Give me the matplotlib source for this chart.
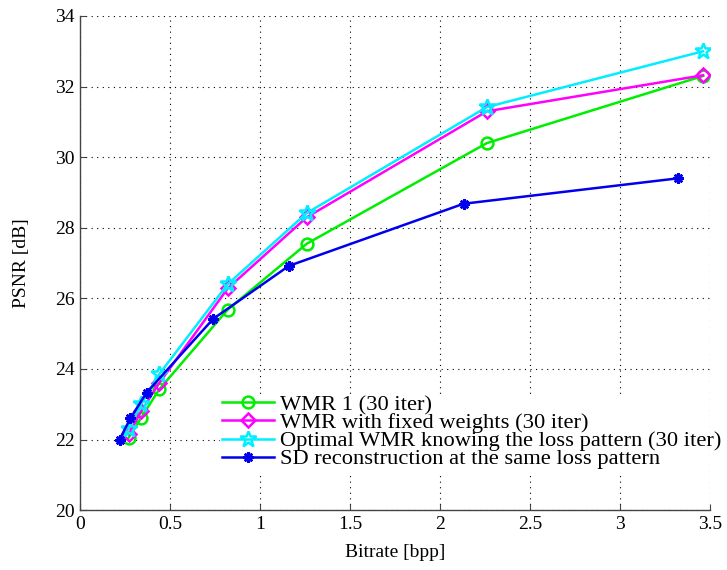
import matplotlib.pyplot as plt
from matplotlib.patches import Rectangle

# data
rate_wmr = [0.27, 0.34, 0.44, 0.82, 1.26, 2.26, 3.46]
psnr_wmr1 = [22.05, 22.62, 23.42, 25.68, 27.55, 30.4, 32.3]
psnr_fixed = [22.15, 22.8, 23.6, 26.28, 28.3, 31.3, 32.32]
psnr_opt = [22.3, 23.0, 23.85, 26.4, 28.42, 31.42, 33.0]
rate_sd = [0.22, 0.28, 0.37, 0.74, 1.16, 2.13, 3.32]
psnr_sd = [22.0, 22.6, 23.33, 25.42, 26.92, 28.68, 29.4]

labels = ['WMR 1 (30 iter)',
          'WMR with fixed weights (30 iter)',
          'Optimal WMR knowing the loss pattern (30 iter)',
          'SD reconstruction at the same loss pattern']

plt.rcParams['font.family'] = ['Liberation Serif', 'DejaVu Serif']

W, H = 727, 570
fig = plt.figure(figsize=(W / 100, H / 100), dpi=100)
ax = fig.add_axes([0.110, 0.105, 0.867, 0.867])

ax.plot(rate_wmr, psnr_wmr1, color='#00ee00', lw=1.8, marker='o', ms=8.5,
        mfc='none', mew=1.8, label=labels[0])
ax.plot(rate_wmr, psnr_fixed, color='#ff00ff', lw=1.8, marker='D', ms=7.5,
        mfc='none', mew=1.8, label=labels[1])
ax.plot(rate_wmr, psnr_opt, color='#00eeff', lw=1.8, marker='*', ms=12,
        mfc='none', mew=1.8, label=labels[2])
ax.plot(rate_sd, psnr_sd, color='#0000ee', lw=1.8, marker=(8, 2, 0), ms=7.5,
        mew=1.8, label=labels[3])

ax.set_xlim(0, 3.5)
ax.set_ylim(20, 34)
ax.set_xticks([0, 0.5, 1, 1.5, 2, 2.5, 3, 3.5])
ax.set_xticklabels(['0', '0.5', '1', '1.5', '2', '2.5', '3', '3.5'])
ax.set_yticks(range(20, 35, 2))
# box off: only left and bottom axes
ax.spines['top'].set_visible(False)
ax.spines['right'].set_visible(False)
for s in ['left', 'bottom']:
    ax.spines[s].set_color('#444444')
    ax.spines[s].set_linewidth(1.0)
ax.tick_params(direction='in', labelsize=14, length=4, pad=4, color='#444444')
ax.grid(True, color='black', linestyle=(0, (1, 4)), linewidth=0.8)
ax.set_xlabel('Bitrate [bpp]', fontsize=14, labelpad=8)
ax.set_ylabel('PSNR [dB]', fontsize=14, labelpad=18)

# white legend box like MATLAB's (text overflows on the right)
ax.add_patch(Rectangle((220 / W, 1 - 472 / H), 486 / W, 75 / H,
                       transform=fig.transFigure, facecolor='white',
                       edgecolor='none', zorder=4, clip_on=False))
leg = ax.legend(loc='center left', bbox_to_anchor=(222 / W, 1 - 432 / H),
                bbox_transform=fig.transFigure, fontsize=16.2,
                frameon=False, handlelength=2.3, handletextpad=0.3,
                labelspacing=-0.12, borderpad=0.0, borderaxespad=0.0)
leg.set_zorder(5)

plt.savefig('out.png', dpi=100)
